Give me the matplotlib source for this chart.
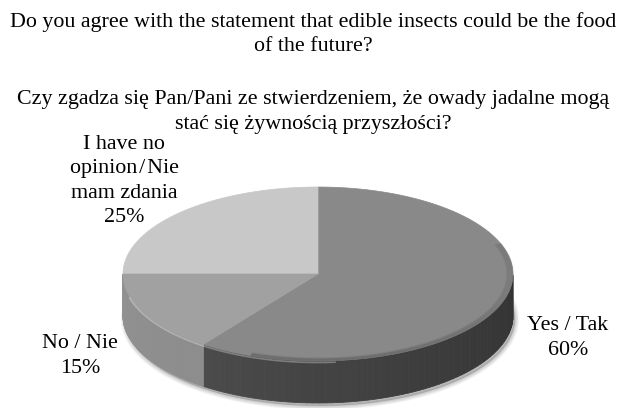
import matplotlib
matplotlib.use("Agg")
import matplotlib.pyplot as plt
from matplotlib.patches import Polygon
import numpy as np

# survey answers
labels = ["Yes / Tak\n60%", "No / Nie\n15%",
          "I have no\nopinion\u200a/\u200aNie\nmam zdania\n25%"]
values = [60, 15, 25]
top_colors = ["#898989", "#a1a1a1", "#c8c8c8"]
side_colors = ["#5a5a5a", "#929292", "#b5b5b5"]
side_dark = ["#333333", "#848484", "#a5a5a5"]

title_en = "Do you agree with the statement that edible insects could be the food\nof the future?"
title_pl = "Czy zgadza się Pan/Pani ze stwierdzeniem, że owady jadalne mogą\nstać się żywnością przyszłości?"

plt.rcParams['font.family'] = ['Liberation Serif', 'DejaVu Serif']

fig = plt.figure(figsize=(6.26, 4.08), dpi=100)
ax = fig.add_axes([0, 0, 1, 1])
ax.set_xlim(0, 626)
ax.set_ylim(408, 0)
ax.axis('off')

# pie geometry (pixels)
cx, cy = 318, 274
a, b = 195, 87
depth = 42


def ell(t):
    t = np.radians(t)
    return cx + a * np.cos(t), cy - b * np.sin(t)


def mix(c1, c2, f):
    c1 = np.array(matplotlib.colors.to_rgb(c1))
    c2 = np.array(matplotlib.colors.to_rgb(c2))
    return tuple(c1 * (1 - f) + c2 * f)


# slice angles: yes goes clockwise from 90 deg, others follow counterclockwise
fracs = np.array(values) / sum(values) * 360
starts = [90 - fracs[0], 90, 90 + fracs[2]]
ends = [90, 90 + fracs[2], 90 + fracs[2] + fracs[1]]
order = [0, 2, 1]

# soft shadow
for k in range(8):
    t = np.linspace(0, 360, 200)
    x, y = ell(t)
    ax.fill(x + 2, y + depth + 3, color=(0, 0, 0, 0.025), zorder=0,
            lw=6 - k * 0.7)

# side walls (front part 180..360)
for i, s, e in zip(order, starts, ends):
    lo, hi = s % 360, e % 360
    if hi <= lo:
        hi += 360
    segs = np.linspace(lo, hi, 120)
    for t0, t1 in zip(segs[:-1], segs[1:]):
        tm = (t0 + t1) / 2 % 360
        if not (180 <= tm <= 360):
            continue
        f = (tm - 180) / 180
        col = mix(side_colors[i], side_dark[i], f ** 0.8)
        x0, y0 = ell(t0)
        x1, y1 = ell(t1)
        ax.add_patch(Polygon([[x0, y0], [x1, y1], [x1, y1 + depth], [x0, y0 + depth]],
                             closed=True, fc=col, ec=col, lw=0.6, zorder=1))

# top faces
for i, s, e in zip(order, starts, ends):
    t = np.linspace(s, e, 100)
    x, y = ell(t)
    pts = np.column_stack([np.r_[cx, x], np.r_[cy, y]])
    ax.add_patch(Polygon(pts, closed=True, fc=top_colors[i], ec=top_colors[i],
                         lw=0.5, zorder=2))

# rim shading on the top face
for k in range(6):
    sc = 1 - k * 0.006
    t = np.linspace(250, 380, 100)
    x = cx + a * sc * np.cos(np.radians(t))
    y = cy - b * sc * np.sin(np.radians(t))
    ax.plot(x, y, color=(0, 0, 0, 0.05), lw=1.5, zorder=3)
t = np.linspace(195, 275, 80)
x, y = ell(t)
ax.plot(x, y + 1.5, color=(1, 1, 1, 0.3), lw=1.2, zorder=3)

# titles
ax.text(313, 34, title_en, ha='center', va='center', fontsize=15.8,
        linespacing=1.42)
ax.text(313, 112, title_pl, ha='center', va='center', fontsize=15.8,
        linespacing=1.42)

# data labels
ax.text(568, 338, labels[0], ha='center', va='center', fontsize=15.8,
        linespacing=1.38)
ax.text(80, 356, labels[1], ha='center', va='center', fontsize=15.8,
        linespacing=1.38)
ax.text(124, 181, labels[2], ha='center', va='center', fontsize=15.8,
        linespacing=1.38)

fig.savefig("out.png", dpi=100)
